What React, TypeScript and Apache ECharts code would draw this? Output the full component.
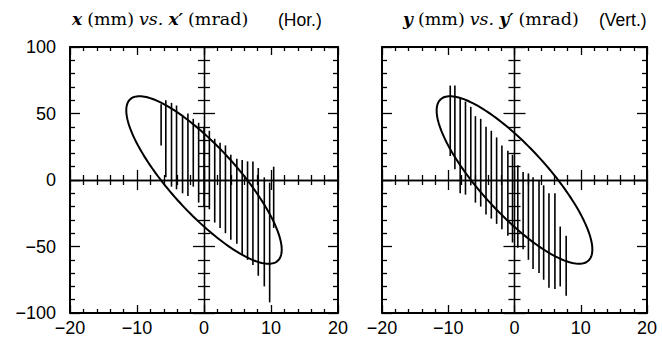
import React, { useEffect, useRef } from "react";
import * as echarts from "echarts";

// Horizontal plane: x' (mrad) positions, x (mm) ranges of each vertical bar
const horX = [-6.4, -5.7, -4.85, -4.1, -3.2, -2.4, -1.6, -0.8, 0, 0.8, 1.6, 2.4, 3.2, 4.0, 4.9, 5.7, 6.5, 7.3, 8.1, 9.0, 9.8, 10.4];
const horLow = [26, 2, -5, -7, -10, -12, -5, -17, -20, -22, -32, -36, -40, -45, -48, -56, -60, -64, -72, -80, -92, -36];
const horHigh = [57, 60, 58, 56, 49, 50, 46, 43, 40, 37, 31, 28, 26, 19, 16, 15, 14, 14, 9, 2, -2, 10];

// Vertical plane: y' (mrad) positions, y (mm) ranges
const verX = [-9.7, -9.0, -8.2, -7.4, -6.6, -5.9, -5.1, -4.3, -3.5, -2.7, -1.9, -1.0, -0.3, 0.5, 1.3, 2.1, 2.8, 3.7, 4.4, 5.2, 6.1, 6.9, 7.8];
const verLow = [18, 8, -10, -11, -4, -17, -20, -26, -29, -33, -37, -42, -47, -51, -52, -60, -67, -70, -75, -81, -82, -80, -87];
const verHigh = [71, 71, 62, 59, 55, 48, 46, 40, 37, 32, 26, 22, 19, 11, 6, 5, 2, 0, -4, -10, -10, -35, -42];

// Acceptance ellipses: [max |x'|, max |x|, sin(phase)]
const horEllipse = [11.6, 63, 0.556];
const verEllipse = [11.75, 63, 0.56];

// Axis ranges and tick labels
const xRange = [-20, 20];
const yRange = [-100, 100];
const xInterval = 10;
const yInterval = 50;

const fmt = (v: number) => String(v).replace("-", "\u2212");
const black = "#000";

function buildOption() {
  const grids = [
    { left: 70, top: 47, width: 268, height: 266 },
    { left: 382, top: 47, width: 265, height: 266 },
  ];
  const xAxes: any[] = [];
  const yAxes: any[] = [];
  grids.forEach((_, g) => {
    const xBase = g * 4;
    const yBase = g * 4;
    const xCommon = { type: "value", gridIndex: g, min: xRange[0], max: xRange[1], interval: xInterval, splitLine: { show: false } };
    const yCommon = { type: "value", gridIndex: g, min: yRange[0], max: yRange[1], interval: yInterval, splitLine: { show: false } };
    const frameLine = { onZero: false, lineStyle: { color: black, width: 2 } };
    const tickStyle = { color: black, width: 1.3 };
    // frame bottom
    xAxes.push({
      ...xCommon, position: "bottom", axisLine: frameLine,
      axisTick: { inside: true, length: 8, lineStyle: tickStyle },
      minorTick: { show: true, splitNumber: 5, length: 4, lineStyle: tickStyle },
      axisLabel: { show: true, color: black, fontSize: 18, fontFamily: "Liberation Sans", margin: 6, formatter: fmt },
    });
    // frame top
    xAxes.push({
      ...xCommon, position: "top", axisLine: frameLine,
      axisTick: { inside: true, length: 8, lineStyle: tickStyle },
      minorTick: { show: true, splitNumber: 5, length: 4, lineStyle: tickStyle },
      axisLabel: { show: false },
    });
    // central horizontal axis, ticks down and up
    ["bottom", "top"].forEach((pos) => {
      xAxes.push({
        ...xCommon, position: pos,
        axisLine: { onZero: true, onZeroAxisIndex: yBase, lineStyle: { color: black, width: 1.3 } },
        axisTick: { inside: false, length: 10, lineStyle: tickStyle },
        minorTick: { show: true, splitNumber: 5, length: 5, lineStyle: tickStyle },
        axisLabel: { show: false },
      });
    });
    // frame left
    yAxes.push({
      ...yCommon, position: "left", axisLine: frameLine,
      axisTick: { inside: true, length: 10, lineStyle: tickStyle },
      minorTick: { show: true, splitNumber: 5, length: 5, lineStyle: tickStyle },
      axisLabel: { show: g === 0, color: black, fontSize: 18, fontFamily: "Liberation Sans", margin: 14, formatter: fmt },
    });
    // frame right
    yAxes.push({
      ...yCommon, position: "right", axisLine: frameLine,
      axisTick: { inside: true, length: 10, lineStyle: tickStyle },
      minorTick: { show: true, splitNumber: 5, length: 5, lineStyle: tickStyle },
      axisLabel: { show: false },
    });
    // central vertical axis
    ["left", "right"].forEach((pos) => {
      yAxes.push({
        ...yCommon, position: pos,
        axisLine: { onZero: true, onZeroAxisIndex: xBase, lineStyle: { color: black, width: 1.3 } },
        axisTick: { inside: false, length: 11, lineStyle: tickStyle },
        minorTick: { show: true, splitNumber: 5, length: 6, lineStyle: tickStyle },
        axisLabel: { show: false },
      });
    });
  });

  const barSeries = (g: number, xs: number[], lo: number[], hi: number[]) => ({
    type: "custom",
    xAxisIndex: g * 4,
    yAxisIndex: g * 4,
    data: xs.map((x, i) => [x, lo[i], hi[i]]),
    encode: { x: 0, y: [1, 2] },
    renderItem: (_p: any, api: any) => {
      const a = api.coord([api.value(0), api.value(1)]);
      const b = api.coord([api.value(0), api.value(2)]);
      return { type: "line", shape: { x1: a[0], y1: a[1], x2: b[0], y2: b[1] }, style: { stroke: black, lineWidth: 1.6 } };
    },
    silent: true,
  });

  const ellipseSeries = (g: number, e: number[]) => ({
    type: "custom",
    xAxisIndex: g * 4,
    yAxisIndex: g * 4,
    data: [e],
    encode: { x: 0, y: 1 },
    renderItem: (_p: any, api: any) => {
      const A = api.value(0), B = api.value(1), s = api.value(2);
      const phi = Math.asin(s);
      const pts: number[][] = [];
      for (let k = 0; k < 180; k++) {
        const t = (k / 180) * Math.PI * 2;
        pts.push(api.coord([A * Math.cos(t), -B * Math.cos(t - phi)]));
      }
      return { type: "polygon", shape: { points: pts }, style: { fill: "none", stroke: black, lineWidth: 2 } };
    },
    silent: true,
  });

  const rich = {
    m: { fontFamily: "DejaVu Serif", fontStyle: "italic", fontWeight: "bold", fontSize: 17, color: black },
    r: { fontFamily: "DejaVu Serif", fontStyle: "normal", fontWeight: "normal", fontSize: 17.5, color: black },
    i: { fontFamily: "DejaVu Serif", fontStyle: "italic", fontWeight: "normal", fontSize: 17.5, color: black },
  };
  const sansTitle = { fontFamily: "Liberation Sans", fontWeight: "normal", fontSize: 17.5, color: black };

  return {
    animation: false,
    backgroundColor: "#fff",
    title: [
      { text: "{m|x} {r|(mm)} {i|vs.} {m|x\u2032} {r|(mrad)}", left: 72, top: 10, padding: 0, textStyle: { fontWeight: "normal", rich } },
      { text: "(Hor.)", left: 278, top: 11, padding: 0, textStyle: sansTitle },
      { text: "{m|y} {r|(mm)} {i|vs.} {m|y\u2032} {r|(mrad)}", left: 403, top: 10, padding: 0, textStyle: { fontWeight: "normal", rich } },
      { text: "(Vert.)", left: 599, top: 11, padding: 0, textStyle: sansTitle },
    ],
    grid: grids,
    xAxis: xAxes,
    yAxis: yAxes,
    series: [
      barSeries(0, horX, horLow, horHigh),
      ellipseSeries(0, horEllipse),
      barSeries(1, verX, verLow, verHigh),
      ellipseSeries(1, verEllipse),
    ],
  };
}

export default function App() {
  const ref = useRef<HTMLDivElement>(null);
  useEffect(() => {
    if (!ref.current) return;
    const chart = echarts.init(ref.current, null, { renderer: "svg" });
    chart.setOption(buildOption() as any);
    return () => chart.dispose();
  }, []);
  return <div ref={ref} style={{ position: "fixed", left: 0, top: 0, width: 662, height: 341, background: "#fff" }} />;
}
